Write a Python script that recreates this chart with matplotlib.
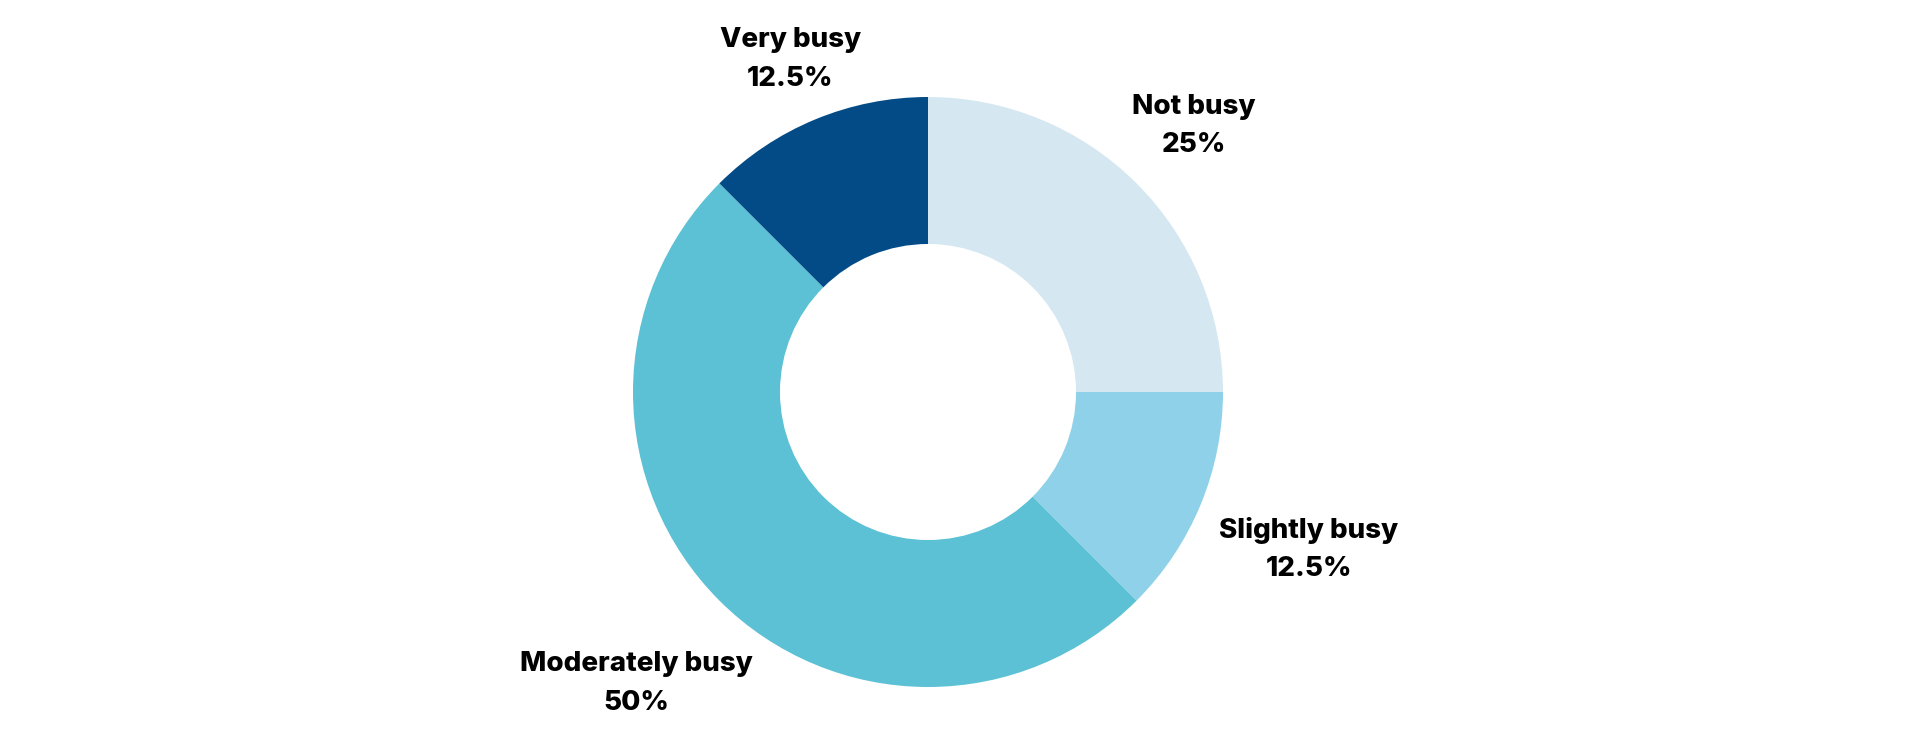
import matplotlib
matplotlib.use("Agg")
import matplotlib.pyplot as plt
import numpy as np

# data
categories = ["Not busy", "Slightly busy", "Moderately busy", "Very busy"]
shares = [25, 12.5, 50, 12.5]
pct_labels = ["25%", "12.5%", "50%", "12.5%"]
colors = ["#d5e8f2", "#8fd1e8", "#5cc1d5", "#024b86"]
# how far out each label sits (in outer radii), wider texts sit further out
label_dist = [1.275, 1.397, 1.397, 1.22]

plt.rcParams["font.family"] = ["Inter", "DejaVu Sans"]

W, H = 1920, 740
fig = plt.figure(figsize=(W / 100, H / 100), dpi=100)
ax = fig.add_axes([0, 0, 1, 1])
ax.set_xlim(0, W)
ax.set_ylim(0, H)
ax.set_aspect("equal")
ax.axis("off")

cx, cy = 928, H - 392
R = 295
wedges, _ = ax.pie(shares, colors=colors, startangle=90, counterclock=False,
                   radius=R, center=(cx, cy),
                   wedgeprops=dict(width=147, linewidth=0))
ax.set_xlim(0, W)
ax.set_ylim(0, H)

for w, name, pct, d in zip(wedges, categories, pct_labels, label_dist):
    theta = np.deg2rad((w.theta1 + w.theta2) / 2)
    x = cx + R * d * np.cos(theta)
    y = cy + R * d * np.sin(theta)
    ax.text(x, y, name + "\n" + pct, ha="center", va="center",
            multialignment="center", fontsize=20, fontweight="heavy",
            linespacing=1.62, color="#000000")

fig.savefig("out.png", dpi=100)
